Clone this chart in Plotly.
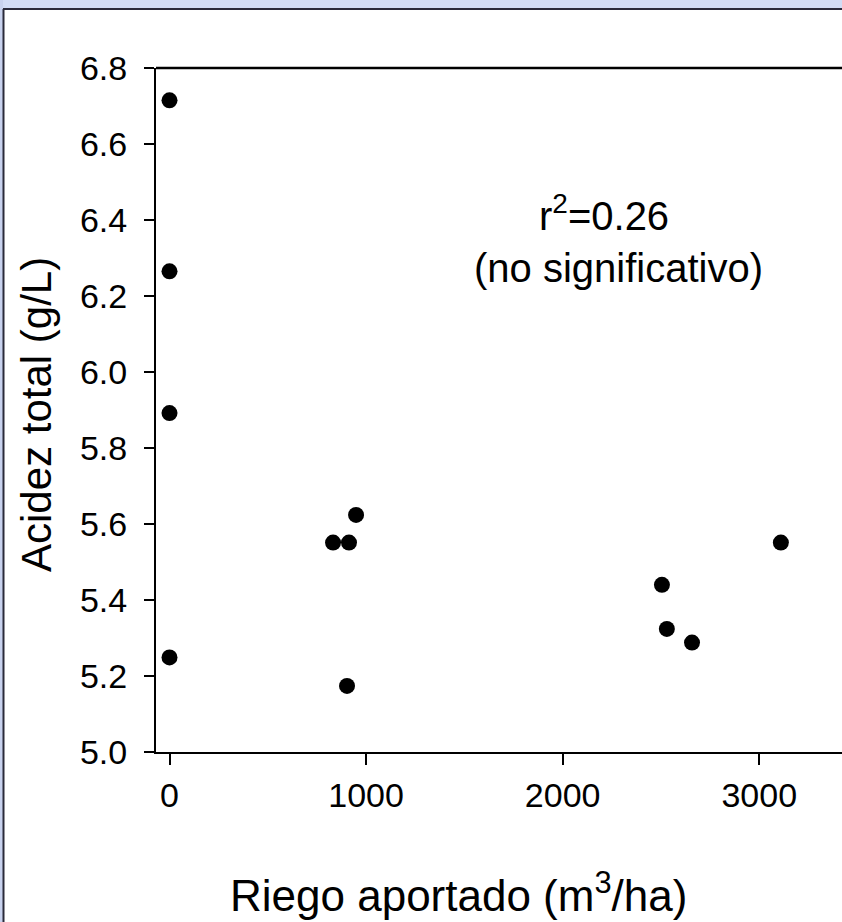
import plotly.graph_objects as go

# Data
riego = [0, 0, 0, 0, 832, 913, 949, 903, 2505, 2530, 2658, 3110]
acidez = [6.715, 6.265, 5.892, 5.249, 5.551, 5.551, 5.624, 5.174, 5.440, 5.324, 5.288, 5.551]

x_ticks = [0, 1000, 2000, 3000]
y_ticks = [5.0, 5.2, 5.4, 5.6, 5.8, 6.0, 6.2, 6.4, 6.6, 6.8]

x_title = "Riego aportado (m<sup>3</sup>/ha)"
y_title = "Acidez total (g/L)"
note_r2 = "r<sup>2</sup>=0.26"
note_sig = "(no significativo)"

FONT = "Arial, Liberation Sans, sans-serif"

W, H = 842, 922
L, R, T, B = 156, 0, 68, 170
PW, PH = W - L - R, H - T - B


def px(x):
    return (x - L) / PW


def py(y):
    return (H - B - y) / PH


fig = go.Figure()
fig.add_trace(go.Scatter(
    x=riego, y=acidez, mode="markers",
    marker=dict(color="black", size=16, line=dict(width=0)),
    showlegend=False,
))

fig.update_layout(
    width=W, height=H,
    margin=dict(l=L, r=R, t=T, b=B, pad=0),
    paper_bgcolor="white", plot_bgcolor="white",
    font=dict(family=FONT, color="black"),
    showlegend=False,
    xaxis=dict(
        range=[-68.7, 3421], tickvals=x_ticks, ticktext=[str(v) for v in x_ticks],
        showline=True, linecolor="black", linewidth=2, mirror=False,
        ticks="outside", ticklen=11, tickwidth=2, tickcolor="black",
        showgrid=False, zeroline=False,
        tickfont=dict(size=34, family=FONT, color="black"),
        ticklabelstandoff=1,
    ),
    yaxis=dict(
        range=[5.0, 6.8], tickvals=y_ticks, ticktext=[f"{v:.1f}" for v in y_ticks],
        showline=True, linecolor="black", linewidth=2, mirror=False,
        ticks="outside", ticklen=10, tickwidth=2, tickcolor="black",
        showgrid=False, zeroline=False,
        tickfont=dict(size=34, family=FONT, color="black"),
        ticklabelstandoff=10,
    ),
)

# Top frame line of the plot box (open on the right, as in the reference crop)
fig.add_shape(type="line", xref="paper", yref="paper",
              x0=0, x1=px(W + 20), y0=1, y1=1,
              line=dict(color="black", width=2.5), layer="above")

# Slide-like frame: light blue band at top/left with a dark border line
fig.add_shape(type="rect", xref="paper", yref="paper",
              x0=px(-20), x1=px(W + 20), y0=py(8), y1=py(-20),
              fillcolor="#D2DCF5", line=dict(width=0), layer="above")
fig.add_shape(type="rect", xref="paper", yref="paper",
              x0=px(-20), x1=px(3), y0=py(H + 20), y1=py(-20),
              fillcolor="#C8D2EE", line=dict(width=0), layer="above")
fig.add_shape(type="line", xref="paper", yref="paper",
              x0=px(3), x1=px(W + 20), y0=py(9), y1=py(9),
              line=dict(color="#2a2a3a", width=2), layer="above")
fig.add_shape(type="line", xref="paper", yref="paper",
              x0=px(3.5), x1=px(3.5), y0=py(9), y1=py(H + 20),
              line=dict(color="#2a2a3a", width=2), layer="above")
# white fill of the slide area right of the plot top (keeps the margin clean)
fig.add_shape(type="rect", xref="paper", yref="paper",
              x0=px(800), x1=px(W + 20), y0=py(66), y1=py(11),
              fillcolor="white", line=dict(width=0), layer="above")

# Axis titles
fig.add_annotation(text=x_title, xref="paper", yref="paper",
                   x=px(458), y=py(892), xanchor="center", yanchor="middle",
                   showarrow=False, font=dict(size=44, family=FONT, color="black"))
fig.add_annotation(text=y_title, xref="paper", yref="paper",
                   x=px(36), y=py(415), xanchor="center", yanchor="middle",
                   textangle=-90,
                   showarrow=False, font=dict(size=42, family=FONT, color="black"))

# Statistics note
fig.add_annotation(text=note_r2, xref="paper", yref="paper",
                   x=px(604), y=py(213), xanchor="center", yanchor="middle",
                   showarrow=False, font=dict(size=40, family=FONT, color="black"))
fig.add_annotation(text=note_sig, xref="paper", yref="paper",
                   x=px(618), y=py(268), xanchor="center", yanchor="middle",
                   showarrow=False, font=dict(size=40, family=FONT, color="black"))

fig.write_html("out.html", config={"displayModeBar": False})
